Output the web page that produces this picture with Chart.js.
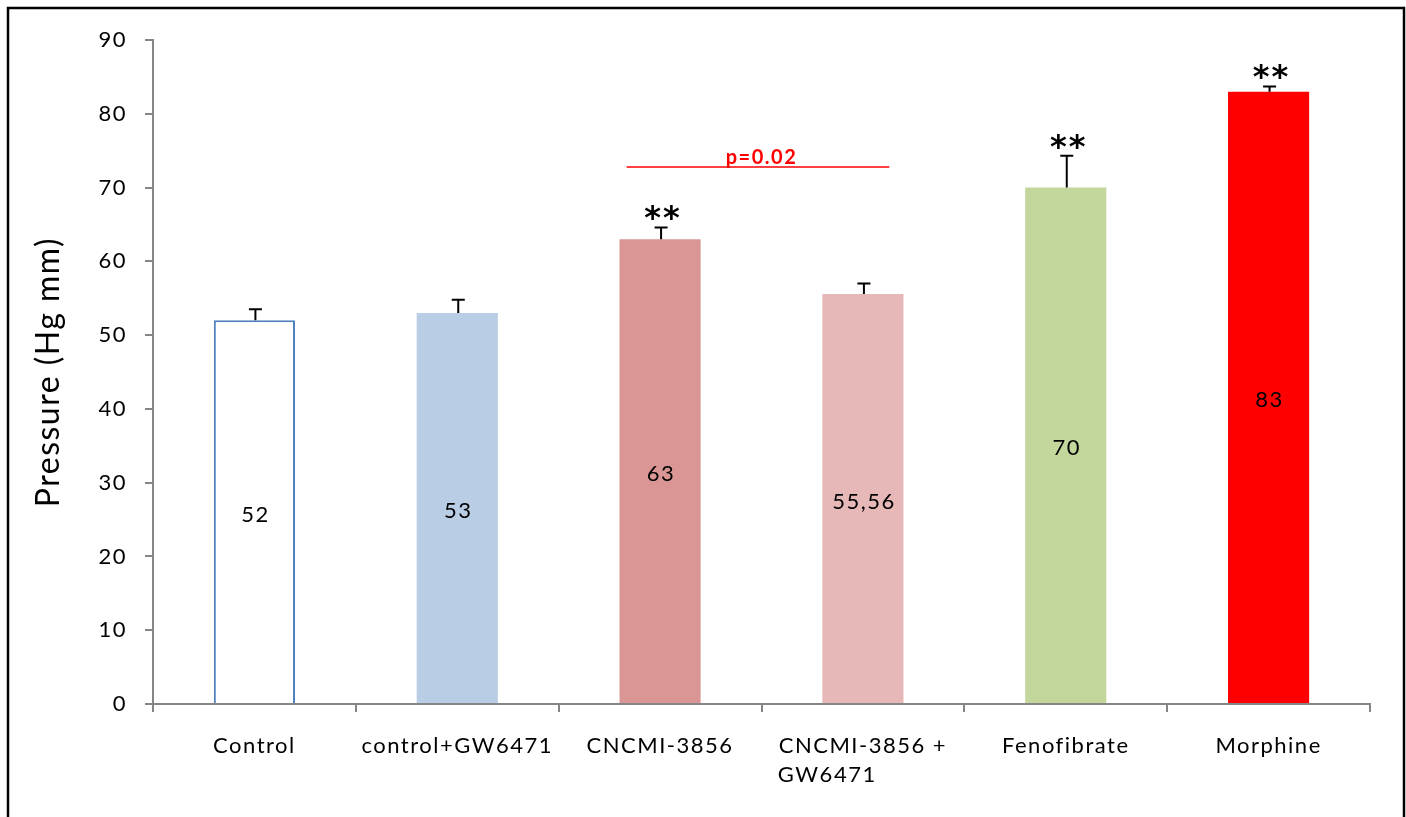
<!DOCTYPE html>
<html><head><meta charset="utf-8">
<script src="https://cdn.jsdelivr.net/npm/chart.js@4/dist/chart.umd.min.js"></script>
<style>html,body{margin:0;padding:0;background:#fff;} canvas{display:block;}</style>
</head><body>
<canvas id="c" width="1406" height="817"></canvas>
<script>
// ---- data ----
const categories = ['Control', 'control+GW6471', 'CNCMI-3856', ['CNCMI-3856 +', 'GW6471'], 'Fenofibrate', 'Morphine'];
const pressureValues = [52, 53, 63, 55.56, 70, 83];
const valueLabels = ['52', '53', '63', '55,56', '70', '83'];
const errorValues = [1.5, 1.8, 1.6, 1.45, 4.3, 0.7];
const significance = ['', '', '**', '', '**', '**'];
const yTickValues = [0, 10, 20, 30, 40, 50, 60, 70, 80, 90];
const comparisonPair = [2, 3];
const comparisonLevel = [72.8];
const comparisonText = ['p=0.02'];

const barFills = ['#FFFFFF', '#B9CDE5', '#D99694', '#E6B9B8', '#C3D69B', '#FF0000'];
const barBorders = ['#4F81BD', '#B9CDE5', '#D99694', '#E6B9B8', '#C3D69B', '#FF0000'];
const barBorderWidths = [2, 0, 0, 0, 0, 0];

const FONT = 'Lato';
const AXIS_GREY = '#868686';
const SPACING = '1.5px';

// measure helper for left-aligned multi-line labels
const mctx = document.createElement('canvas').getContext('2d');
function padLines(lines, font) {
  mctx.font = font;
  mctx.letterSpacing = SPACING;
  const widths = lines.map(l => mctx.measureText(l).width);
  const maxW = Math.max(...widths);
  const sp = mctx.measureText(' ').width;
  return lines.map((l, i) => l + ' '.repeat(Math.max(0, Math.round((maxW - widths[i]) / sp))));
}

const spacingPlugin = {
  id: 'spacing',
  beforeInit(chart) { chart.ctx.letterSpacing = SPACING; },
  beforeLayout(chart) { chart.ctx.letterSpacing = SPACING; },
  beforeDraw(chart) { chart.ctx.letterSpacing = SPACING; }
};

const overlayPlugin = {
  id: 'overlay',
  afterDatasetsDraw(chart) {
    const ctx = chart.ctx;
    const meta = chart.getDatasetMeta(0);
    const y = chart.scales.y, x = chart.scales.x;
    ctx.save();
    meta.data.forEach((bar, i) => {
      // value labels in the middle of bars
      ctx.fillStyle = '#000';
      ctx.font = `22px ${FONT}`;
      ctx.textAlign = 'center';
      ctx.textBaseline = 'middle';
      ctx.fillText(valueLabels[i], bar.x + 1, (bar.y + bar.base) / 2 + 3);
      // error bars (upper only)
      const top = y.getPixelForValue(pressureValues[i] + errorValues[i]);
      ctx.strokeStyle = '#000';
      ctx.lineWidth = 2;
      ctx.beginPath();
      ctx.moveTo(bar.x + 1, bar.y);
      ctx.lineTo(bar.x + 1, top);
      ctx.moveTo(bar.x - 5.5, top);
      ctx.lineTo(bar.x + 7.5, top);
      ctx.stroke();
      // significance stars
      if (significance[i]) {
        ctx.font = `bold 32px "DejaVu Sans"`;
        ctx.textBaseline = 'alphabetic';
        ctx.letterSpacing = '2px';
        ctx.fillText(significance[i], bar.x + 3, top + 1);
        ctx.letterSpacing = SPACING;
      }
    });
    // comparison line
    const cw = x.getPixelForValue(1) - x.getPixelForValue(0);
    const x1 = x.getPixelForValue(comparisonPair[0]) - 0.165 * cw;
    const x2 = x.getPixelForValue(comparisonPair[1]) + 0.13 * cw;
    const ly = y.getPixelForValue(comparisonLevel[0]);
    ctx.strokeStyle = '#FF0000';
    ctx.lineWidth = 1.5;
    ctx.beginPath();
    ctx.moveTo(x1, ly);
    ctx.lineTo(x2, ly);
    ctx.stroke();
    ctx.fillStyle = '#FF0000';
    ctx.font = `bold 20px ${FONT}`;
    ctx.textAlign = 'center';
    ctx.textBaseline = 'alphabetic';
    ctx.fillText(comparisonText[0], (x.getPixelForValue(comparisonPair[0]) + x.getPixelForValue(comparisonPair[1])) / 2, ly - 3);
    ctx.restore();
  },
  afterDraw(chart) {
    const ctx = chart.ctx;
    ctx.save();
    ctx.strokeStyle = '#000';
    ctx.lineWidth = 2.5;
    ctx.strokeRect(8, 8, 1396, 840);
    ctx.restore();
  }
};

new Chart(document.getElementById('c'), {
  type: 'bar',
  data: {
    labels: categories,
    datasets: [{
      data: pressureValues,
      backgroundColor: barFills,
      borderColor: barBorders,
      borderWidth: barBorderWidths,
      borderSkipped: 'start',
      categoryPercentage: 1.0,
      barPercentage: 0.4
    }]
  },
  options: {
    responsive: false,
    animation: false,
    devicePixelRatio: 1,
    layout: { padding: { left: 0, right: 36, top: 40, bottom: 0 } },
    plugins: { legend: { display: false }, tooltip: { enabled: false } },
    scales: {
      x: {
        grid: { display: true, drawOnChartArea: false, drawTicks: true, tickLength: 8, color: AXIS_GREY, lineWidth: 2, offset: true },
        border: { display: true, color: AXIS_GREY, width: 2 },
        ticks: {
          color: '#000',
          font: { family: FONT, size: 22, lineHeight: 1.3 },
          padding: 20,
          maxRotation: 0,
          autoSkip: false,
          callback: function (value) {
            const l = this.getLabelForValue(value);
            return Array.isArray(l) ? padLines(l, `22px ${FONT}`) : l;
          }
        },
        afterFit: s => { s.height = 113; }
      },
      y: {
        min: 0, max: 90,
        afterBuildTicks: s => { s.ticks = yTickValues.map(v => ({ value: v })); },
        grid: { display: true, drawOnChartArea: false, drawTicks: true, tickLength: 8, color: AXIS_GREY, lineWidth: 2 },
        border: { display: true, color: AXIS_GREY, width: 2 },
        ticks: { color: '#000', font: { family: FONT, size: 22 }, padding: 18 },
        title: { display: true, text: 'Pressure (Hg mm)', color: '#000', font: { family: FONT, size: 32 }, padding: { top: 29, bottom: 0 } },
        afterFit: s => { s.width = 153; }
      }
    }
  },
  plugins: [spacingPlugin, overlayPlugin]
});
</script>
</body></html>
